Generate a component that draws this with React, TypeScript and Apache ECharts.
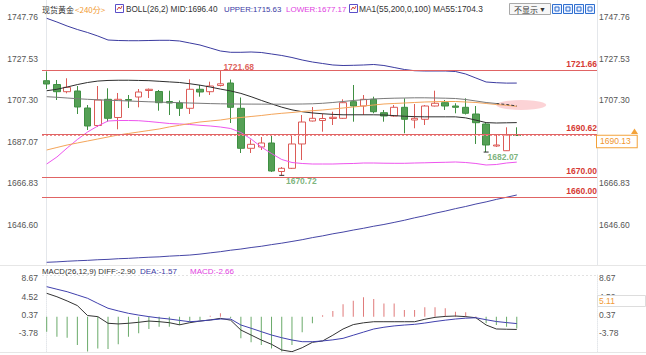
import React, { useEffect, useRef } from 'react';
import * as echarts from 'echarts';

const FONT = "'Liberation Sans', Arial, 'Noto Sans CJK SC', sans-serif";

const priceTicks = [1646.6, 1666.83, 1687.07, 1707.3, 1727.53, 1747.76];
const macdTicks = [-3.78, 0.37, 4.52, 8.67];

// [open, close, low, high]
const ohlc = [
  [1716.78, 1715.17, 1712.74, 1721.3],
  [1714.93, 1711.43, 1707.39, 1717.12],
  [1711.43, 1713.57, 1710.65, 1717.95],
  [1711.77, 1703.99, 1700.58, 1714.2],
  [1703.5, 1694.75, 1692.8, 1704.96],
  [1694.99, 1707.39, 1694.26, 1714.2],
  [1707.73, 1698.49, 1696.84, 1713.08],
  [1698.88, 1707.73, 1693.14, 1710.8],
  [1707.63, 1707.25, 1703.5, 1709.82],
  [1708.85, 1711.28, 1703.84, 1712.74],
  [1712.01, 1712.6, 1708.36, 1712.99],
  [1711.53, 1706.08, 1702.19, 1712.26],
  [1706.66, 1705.93, 1700.1, 1711.92],
  [1705.93, 1703.35, 1699.61, 1707.15],
  [1703.35, 1712.6, 1700.58, 1717.46],
  [1712.6, 1711.28, 1709.0, 1714.69],
  [1711.43, 1714.2, 1709.82, 1716.29],
  [1714.45, 1715.27, 1713.96, 1721.68],
  [1715.66, 1703.84, 1696.2, 1717.36],
  [1703.35, 1683.9, 1681.61, 1708.61],
  [1683.9, 1685.84, 1681.61, 1688.18],
  [1684.53, 1686.48, 1683.07, 1689.4],
  [1686.48, 1672.86, 1672.37, 1690.85],
  [1672.62, 1674.17, 1670.72, 1674.8],
  [1674.17, 1686.0, 1673.83, 1690.85],
  [1686.0, 1696.69, 1678.21, 1700.1],
  [1697.18, 1698.49, 1696.93, 1703.99],
  [1697.42, 1698.4, 1691.97, 1700.83],
  [1698.4, 1698.98, 1695.23, 1701.7],
  [1698.49, 1706.08, 1698.15, 1707.73],
  [1706.57, 1704.47, 1696.84, 1714.69],
  [1704.47, 1707.73, 1700.1, 1709.82],
  [1707.73, 1701.7, 1700.92, 1709.0],
  [1701.21, 1699.61, 1696.84, 1702.53],
  [1699.61, 1703.84, 1699.27, 1704.96],
  [1703.84, 1698.01, 1691.2, 1708.22],
  [1697.66, 1698.49, 1693.63, 1705.45],
  [1698.01, 1704.47, 1695.23, 1704.96],
  [1704.47, 1705.79, 1704.23, 1711.92],
  [1706.08, 1704.47, 1702.53, 1707.39],
  [1704.47, 1703.84, 1700.92, 1705.79],
  [1703.84, 1700.92, 1700.34, 1708.22],
  [1700.58, 1696.35, 1686.0, 1704.47],
  [1695.72, 1685.5, 1682.07, 1696.2],
  [1685.02, 1685.5, 1684.53, 1690.37],
  [1682.73, 1690.37, 1682.59, 1694.11],
  [1690.2, 1690.13, 1690.0, 1694.11],
];

const bollUpper = [
  1747.13, 1745.33, 1743.38, 1741.68, 1740.22, 1738.52, 1736.57, 1736.33, 1736.23, 1736.23,
  1736.33, 1736.43, 1736.43, 1736.09, 1735.12, 1734.14, 1732.68, 1731.22, 1730.59, 1730.59,
  1730.74, 1730.5, 1729.77, 1729.04, 1728.06, 1726.85, 1725.87, 1725.14, 1724.42, 1724.17,
  1724.27, 1724.42, 1724.66, 1724.17, 1723.2, 1722.23, 1721.64, 1721.5, 1721.5, 1721.5,
  1721.25, 1720.04, 1718.09, 1716.15, 1715.8, 1715.6, 1715.63,
];
const bollMid = [
  1711.9, 1712.6, 1713.7, 1714.9, 1715.9, 1716.6, 1716.9, 1717.0, 1717.0, 1716.9,
  1716.8, 1716.5, 1716.2, 1715.9, 1715.3, 1714.6, 1713.7, 1712.7, 1711.8, 1710.6,
  1709.0, 1707.2, 1705.5, 1703.9, 1702.6, 1701.7, 1701.1, 1700.7, 1700.4, 1700.2,
  1700.2, 1700.2, 1700.2, 1700.1, 1699.8, 1699.5, 1699.3, 1699.2, 1699.2, 1699.2,
  1699.2, 1698.7, 1697.6, 1696.4, 1696.2, 1696.3, 1696.4,
];
const bollLower = [
  1676.26, 1679.67, 1684.05, 1688.18, 1691.83, 1694.75, 1697.18, 1697.42, 1697.42, 1697.32,
  1696.93, 1696.45, 1695.96, 1695.72, 1695.48, 1695.09, 1694.75, 1694.26, 1693.53, 1691.58,
  1688.42, 1684.53, 1681.37, 1678.45, 1676.99, 1676.51, 1676.26, 1676.26, 1676.26, 1676.41,
  1676.51, 1676.75, 1676.75, 1676.65, 1676.6, 1676.6, 1676.75, 1676.85, 1676.99, 1677.09,
  1677.24, 1676.99, 1676.51, 1675.78, 1676.02, 1676.75, 1677.17,
];
const ma55 = [
  1683.07, 1684.29, 1685.5, 1686.48, 1687.45, 1688.42, 1689.4, 1690.37, 1691.1, 1691.83,
  1692.56, 1693.29, 1694.3, 1695.1, 1695.96, 1696.69, 1697.18, 1697.66, 1698.39, 1698.88,
  1699.37, 1699.85, 1700.44, 1700.92, 1701.31, 1701.8, 1702.19, 1702.53, 1703.01, 1703.5,
  1703.99, 1704.47, 1704.96, 1705.45, 1705.69, 1705.93, 1706.18, 1706.42, 1706.57, 1706.66,
  1706.66, 1706.42, 1706.18, 1705.69, 1705.2, 1704.81, 1704.3,
];
const ma100 = [
  1709.0, 1708.71, 1708.36, 1708.02, 1707.73, 1707.49, 1707.29, 1707.1, 1706.91, 1706.71,
  1706.52, 1706.37, 1706.22, 1706.08, 1705.93, 1705.79, 1705.64, 1705.54, 1705.47, 1705.42,
  1705.4, 1705.38, 1705.36, 1705.37, 1705.4, 1705.44, 1705.54, 1705.79, 1706.18, 1706.66,
  1707.15, 1707.54, 1707.88, 1708.12, 1708.27, 1708.36, 1708.46, 1708.46, 1708.36, 1708.27,
  1708.12, 1707.64, 1706.91, 1706.18, 1705.69, 1705.2, 1704.47,
];
const ma200 = [
  1628.45, 1628.66, 1628.97, 1629.21, 1629.4, 1629.7, 1629.88, 1630.19, 1630.37, 1630.66,
  1630.92, 1631.1, 1631.45, 1631.7, 1631.98, 1632.44, 1633.05, 1633.62, 1634.33, 1634.9,
  1635.64, 1636.25, 1637.05, 1637.76, 1638.6, 1639.45, 1640.46, 1641.3, 1642.31, 1643.15,
  1644.14, 1645.0, 1646.0, 1646.85, 1647.86, 1648.9, 1650.09, 1651.12, 1652.33, 1653.36,
  1654.55, 1655.6, 1656.8, 1657.84, 1659.05, 1660.08, 1661.19,
];

const macdHist = [
  -3.42, -4.55, -4.78, -6.43, -7.9, -7.18, -7.33, -6.27, -4.55, -3.78,
  -2.81, -2.29, -2.29, -1.9, -1.15, -0.77, 0.2, 0.75, -0.3, -4.9,
  -5.82, -6.43, -7.18, -7.9, -6.43, -3.55, -1.52, 0.3, 1.27, 2.78,
  3.6, 4.37, 3.98, 3.0, 3.0, 1.49, 1.49, 2.1, 2.1, 1.88,
  1.1, 0.97, 0.1, -1.52, -1.9, -2.29, -2.66,
];
const macdDiff = [
  5.28, 4.5, 3.55, 2.5, 0.25, 0.0, -1.5, -1.65, -1.5, -1.28,
  -1.0, -1.14, -1.37, -1.85, -1.37, -1.0, -0.76, -0.38, -0.8, -3.03,
  -4.16, -5.29, -6.26, -7.55, -7.93, -7.03, -5.81, -5.5, -4.2, -2.8,
  -1.8, -1.4, -1.15, -1.15, -1.15, -1.15, -1.15, -0.6, -0.16, 0.05,
  0.14, 0.0, -0.25, -1.89, -2.79, -2.85, -2.9,
];
const macdDea = [
  6.78, 6.2, 5.64, 4.9, 4.15, 3.0, 1.9, 1.3, 0.75, 0.35,
  0.0, -0.3, -0.54, -0.85, -1.15, -1.0, -0.76, -0.54, -0.54, -1.89,
  -2.63, -3.4, -4.16, -4.77, -5.29, -5.67, -5.67, -5.5, -5.25, -4.91,
  -4.2, -3.5, -2.8, -2.4, -2.1, -1.9, -1.74, -1.45, -1.1, -0.8,
  -0.54, -0.35, -0.25, -0.7, -1.1, -1.35, -1.57,
];

const levels = [1721.66, 1690.62, 1670.0, 1660.0];
const lastPrice = 1690.13;
const highMark = { index: 17, value: 1721.68 };
const lowMarks = [
  { index: 23, value: 1670.72 },
  { index: 43, value: 1682.07 },
];
const crossNote = { index: 46.44, value: 1704.96 };

const P_MIN = 1627.14;
const P_MAX = 1756.03;
const M_MIN = -8.0;
const M_MAX = 9.42;
const X_MIN = -0.46;
const X_MAX = 53.85;

const RED = '#dc5b57';
const GREEN_FILL = '#55a055';
const GREEN_LINE = '#3f8f42';

const pts = (arr: number[]) => arr.map((v, i) => [i, v]);

function text(x: number, y: number, t: string, fill: string, extra: any = {}) {
  return {
    type: 'text',
    x,
    y,
    z: 100,
    silent: true,
    style: { text: t, fill, fontSize: 8, fontFamily: FONT, verticalAlign: 'middle', ...extra },
  };
}

function buildOption(): any {
  const priceAxis = (position: string) => ({
    type: 'value',
    gridIndex: 0,
    position,
    min: P_MIN,
    max: P_MAX,
    axisLine: { show: true, lineStyle: { color: '#e4e7eb' } },
    axisTick: { show: false },
    splitLine: { show: false },
    axisLabel: {
      customValues: priceTicks,
      formatter: (v: number) => v.toFixed(2),
      color: '#555',
      fontSize: 8.5,
      fontFamily: FONT,
      margin: position === 'left' ? 4 : 2,
    },
  });
  const macdAxis = (position: string) => ({
    type: 'value',
    gridIndex: 1,
    position,
    min: M_MIN,
    max: M_MAX,
    axisLine: { show: true, lineStyle: { color: '#e4e7eb', type: 'dotted' } },
    axisTick: { show: false },
    splitLine: { show: false },
    axisLabel: {
      customValues: macdTicks,
      formatter: (v: number) => v.toFixed(2),
      color: '#555',
      fontSize: 8.5,
      fontFamily: FONT,
      margin: position === 'left' ? 4 : 2,
    },
  });
  const xAxis = (gridIndex: number) => ({
    type: 'value',
    gridIndex,
    min: X_MIN,
    max: X_MAX,
    show: false,
    splitLine: { show: false },
  });
  const line = (name: string, data: any[], color: string, extra: any = {}) => ({
    type: 'line',
    name,
    xAxisIndex: 0,
    yAxisIndex: 0,
    data,
    symbol: 'none',
    silent: true,
    z: 4,
    lineStyle: { color, width: 1, ...extra },
  });

  const ma100Pts = pts(ma100);

  const graphics: any[] = [
    { type: 'line', z: 100, silent: true, shape: { x1: 0, y1: 265.5, x2: 646, y2: 265.5 }, style: { stroke: '#e6e6e6', lineWidth: 1 } },
    { type: 'line', z: 100, silent: true, shape: { x1: 42, y1: 275.5, x2: 597, y2: 275.5 }, style: { stroke: '#e2e2e2', lineWidth: 1, lineDash: [2, 2] } },
    { type: 'line', z: 100, silent: true, shape: { x1: 0, y1: 352.5, x2: 646, y2: 352.5 }, style: { stroke: '#e6e6e6', lineWidth: 1 } },
    // top legend
    text(42, 9, '现货黄金', '#333', { fontFamily: "'Noto Sans CJK SC', sans-serif", fontSize: 8 }),
    text(75, 9, '<240分>', '#f29b35', { fontFamily: "'Noto Sans CJK SC', sans-serif", fontSize: 8 }),
    { type: 'rect', z: 100, silent: true, shape: { x: 115.5, y: 4.5, width: 8, height: 8 }, style: { fill: '#fff', stroke: '#5b4fc9', lineWidth: 1 } },
    { type: 'polyline', z: 100, silent: true, shape: { points: [[117, 10], [119, 7], [120.5, 9], [122, 6]] }, style: { stroke: '#d0403a', lineWidth: 1, fill: 'none' } },
    text(126, 9, 'BOLL(26,2) MID:1696.40', '#333', { fontSize: 8.2 }),
    text(224, 9, 'UPPER:1715.63', '#3a3aa3', { fontSize: 7.8 }),
    text(286, 9, 'LOWER:1677.17', '#e03ee0', { fontSize: 8 }),
    { type: 'rect', z: 100, silent: true, shape: { x: 349.5, y: 4.5, width: 8, height: 8 }, style: { fill: '#fff', stroke: '#5b4fc9', lineWidth: 1 } },
    { type: 'polyline', z: 100, silent: true, shape: { points: [[351, 10], [353, 7], [354.5, 9], [356, 6]] }, style: { stroke: '#d0403a', lineWidth: 1, fill: 'none' } },
    text(359, 9, 'MA1(55,200,0,100) MA55:1704.3', '#333', { fontSize: 8.4 }),
    // dropdown
    { type: 'rect', z: 100, silent: true, shape: { x: 509.5, y: 3.5, width: 41, height: 11 }, style: { fill: '#f7f7f7', stroke: '#a9a9a9', lineWidth: 1 } },
    text(514, 9.5, '不显示', '#333', { fontFamily: "'Noto Sans CJK SC', sans-serif", fontSize: 8 }),
    text(539, 9.5, '▼', '#333', { fontSize: 7 }),
    // MACD legend
    text(42, 271, 'MACD(26,12,9) DIFF:-2.90', '#333', { fontSize: 7.8 }),
    text(140, 271, 'DEA:-1.57', '#3a3aa3', { fontSize: 8 }),
    text(190, 271, 'MACD:-2.66', '#e03ee0', { fontSize: 8 }),
    // crosshair value box in MACD panel
    { type: 'rect', z: 100, silent: true, shape: { x: 597.5, y: 295.5, width: 48, height: 11 }, style: { fill: '#fff', stroke: '#dddddd', lineWidth: 1 } },
    text(599, 301, '5.11', '#f29b35', { fontSize: 8.5 }),
    // small orange marker above price box
    { type: 'polygon', z: 100, silent: true, shape: { points: [[631, 134], [634.5, 128.5], [638, 134]] }, style: { fill: '#f3a23a' } },
  ];
  for (let k = 0; k < 4; k++) {
    const x0 = 552.5 + k * 11;
    graphics.push({ type: 'rect', z: 100, silent: true, shape: { x: x0, y: 4.5, width: 9, height: 9 }, style: { fill: '#eaf1ff', stroke: '#2f6fd0', lineWidth: 1 } });
    graphics.push({ type: 'rect', z: 100, silent: true, shape: { x: x0 + 2.5, y: 7, width: 4, height: 4 }, style: { fill: 'none', stroke: '#2f6fd0', lineWidth: 1 } });
  }

  return {
    animation: false,
    backgroundColor: '#ffffff',
    textStyle: { fontFamily: FONT },
    grid: [
      { left: 42, right: 49, top: 0, height: 265 },
      { left: 42, right: 49, top: 275, height: 77 },
    ],
    xAxis: [xAxis(0), xAxis(1)],
    yAxis: [priceAxis('left'), priceAxis('right'), macdAxis('left'), macdAxis('right')],
    graphic: graphics,
    series: [
      {
        type: 'scatter',
        name: 'cross',
        xAxisIndex: 0,
        yAxisIndex: 0,
        z: 1,
        silent: true,
        symbol: 'circle',
        symbolSize: [50, 10],
        itemStyle: { color: '#fbc8cc' },
        data: [[crossNote.index, crossNote.value]],
      },
      {
        type: 'candlestick',
        name: 'K',
        xAxisIndex: 0,
        yAxisIndex: 0,
        z: 3,
        barWidth: 7,
        silent: true,
        encode: { x: 0, y: [1, 2, 3, 4] },
        data: ohlc.map((c, i) => [i, c[0], c[1], c[2], c[3]]),
        itemStyle: {
          color: '#ffffff',
          color0: GREEN_FILL,
          borderColor: RED,
          borderColor0: GREEN_LINE,
          borderWidth: 1,
        },
        markLine: {
          symbol: 'none',
          silent: true,
          animation: false,
          lineStyle: { color: '#e06464', width: 1, type: 'solid' },
          label: {
            show: true,
            position: 'insideEndTop',
            distance: [0, 2],
            color: '#d63a34',
            fontSize: 8.5,
            fontWeight: 'bold',
            fontFamily: FONT,
            formatter: (p: any) => Number(p.value).toFixed(2),
          },
          data: [
            ...levels.map((v) => ({ yAxis: v })),
            {
              yAxis: lastPrice,
              lineStyle: { color: '#ee8e8e', type: [2, 2], width: 1 },
              label: {
                show: true,
                position: 'end',
                distance: 0,
                offset: [0, 6],
                color: '#f0962e',
                fontWeight: 'normal',
                fontSize: 8.5,
                backgroundColor: '#fff',
                borderColor: '#f3a23a',
                borderWidth: 1,
                padding: [2, 6, 1, 3],
                formatter: lastPrice.toFixed(2),
              },
            },
          ],
        },
      },
      line('UPPER', pts(bollUpper), '#3b3ba0'),
      line('MID', pts(bollMid), '#2e2e2e'),
      line('LOWER', pts(bollLower), '#ee55ee'),
      line('MA55', pts(ma55), '#f4a55a'),
      line('MA100', ma100Pts.slice(0, 45), '#7a7a7a'),
      line('MA100tail', ma100Pts.slice(44), '#3a3a3a', { type: [3, 2] }),
      line('MA200', pts(ma200), '#4646a6'),
      {
        type: 'scatter',
        name: 'extremes',
        xAxisIndex: 0,
        yAxisIndex: 0,
        z: 6,
        silent: true,
        data: [
          {
            value: [highMark.index, highMark.value],
            symbolSize: 0.1,
            itemStyle: { color: 'rgba(0,0,0,0)' },
            label: { show: true, position: [3, -4], color: '#d63a34', formatter: highMark.value.toFixed(2) },
          },
          ...lowMarks.map((m, k) => ({
            value: [m.index, m.value],
            symbol: 'rect',
            symbolSize: [5, 1.2],
            itemStyle: { color: '#222' },
            label: {
              show: true,
              position: k === 0 ? [6.7, 5.9] : [4, 5.2],
              color: '#5aa05a',
              formatter: m.value.toFixed(2),
            },
          })),
        ],
        label: { fontSize: 8.5, fontWeight: 'bold', fontFamily: FONT, align: 'left', verticalAlign: 'middle' },
      },
      {
        type: 'bar',
        name: 'MACD',
        xAxisIndex: 1,
        yAxisIndex: 2,
        barWidth: 1,
        silent: true,
        data: pts(macdHist),
        itemStyle: {
          color: (p: any) => (p.value[1] >= 0 ? '#e07a7a' : '#6aaa6a'),
        },
      },
      {
        type: 'line',
        name: 'DIFF',
        xAxisIndex: 1,
        yAxisIndex: 2,
        symbol: 'none',
        silent: true,
        data: pts(macdDiff),
        lineStyle: { color: '#333', width: 1 },
      },
      {
        type: 'line',
        name: 'DEA',
        xAxisIndex: 1,
        yAxisIndex: 2,
        symbol: 'none',
        silent: true,
        data: pts(macdDea),
        lineStyle: { color: '#4040ad', width: 1 },
      },
    ],
  };
}

export default function App() {
  const ref = useRef<HTMLDivElement>(null);
  useEffect(() => {
    if (!ref.current) return;
    const chart = echarts.init(ref.current, null, { renderer: 'svg' });
    chart.setOption(buildOption());
    return () => chart.dispose();
  }, []);
  return (
    <div
      ref={ref}
      style={{ position: 'fixed', left: 0, top: 0, width: 646, height: 355, background: '#fff' }}
    />
  );
}
